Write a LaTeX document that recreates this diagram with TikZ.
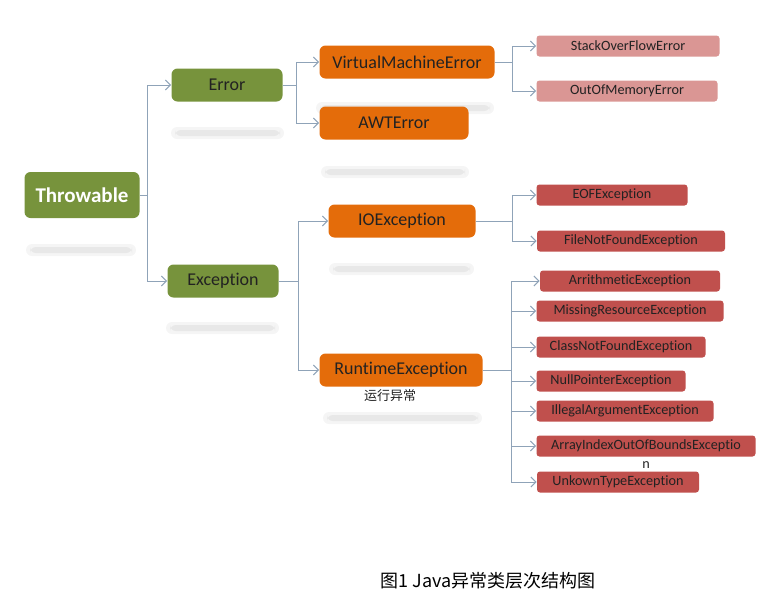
\documentclass[tikz,border=0pt]{standalone}
\usepackage{fontspec}
\setmainfont{Carlito}[Ligatures=NoCommon]
\newfontfamily\cjkfont{Noto Sans CJK SC}
\usetikzlibrary{arrows.meta}
\definecolor{leafgreen}{HTML}{77933C}
\definecolor{boxorange}{HTML}{E46C0A}
\definecolor{boxpink}{HTML}{DA9694}
\definecolor{boxred}{HTML}{C0504D}
\definecolor{linkgray}{HTML}{8FA3B8}
\definecolor{inkdark}{HTML}{222222}

\tikzset{
  box/.style={rounded corners=3pt, inner sep=0pt, text=inkdark},
  rootbox/.style={box, fill=leafgreen, minimum width=57.5pt, minimum height=23pt, text=white, font=\fontsize{10.5}{12}\selectfont\bfseries},
  classbox/.style={box, fill=leafgreen, minimum width=55.5pt, minimum height=16.5pt, font=\fontsize{9}{11}\selectfont},
  errbox/.style={box, fill=boxorange, minimum height=16.5pt, font=\fontsize{9}{11}\selectfont},
  leafbox/.style={box, rounded corners=1.5pt, minimum height=10.5pt, font=\fontsize{7.1}{8}\selectfont},
  softbox/.style={leafbox, fill=boxpink},
  hardbox/.style={leafbox, fill=boxred},
  link/.style={draw=linkgray, line width=0.5pt},
  glow/.style={fill=gray!#1, rounded corners=3pt, draw=none}
}

\begin{document}
\begin{tikzpicture}[x=0.5pt, y=-0.5pt, >={Straight Barb[length=2.5pt, width=5pt]}]
  \useasboundingbox (0,0) rectangle (781,606);

  % reflections under the boxes
  \foreach \xa/\xb/\yy in {30/132/250, 175/280/133, 170/275/328, 320/490/108, 325/465/172, 333/470/269, 327/478/418}{
    \fill[glow=8] (\xa-4,\yy-6) rectangle (\xb+4,\yy+6);
    \fill[glow=18] (\xa,\yy-3) rectangle (\xb,\yy+3);
  }

  % level 1 and 2
  \node[rootbox] (throw) at (82,195) {Throwable};
  \node[classbox] (err) at (227,85) {Error};
  \node[classbox] (exc) at (223,281) {Exception};

  % level 3
  \node[errbox, minimum width=87.5pt] (vme) at (407,62) {VirtualMachineError};
  \node[errbox, minimum width=74.5pt] (awt) at (394,123) {AWTError};
  \node[errbox, minimum width=73.5pt] (io) at (402,221) {IOException};
  \node[errbox, minimum width=81.5pt] (rt) at (401,370) {RuntimeException};
  \node[font=\cjkfont\fontsize{6.5}{8}\selectfont, text=inkdark] (rtnote) at (390,396) {运行异常};

  % level 4
  \node[softbox, minimum width=91.5pt] (sof) at (628,46) {StackOverFlowError};
  \node[softbox, minimum width=90.5pt] (oom) at (627,91) {OutOfMemoryError};
  \node[hardbox, minimum width=75.5pt] (eof) at (612,195) {EOFException};
  \node[hardbox, minimum width=94pt] (fnf) at (631,241) {FileNotFoundException};
  \node[hardbox, minimum width=90pt] (ari) at (630,281) {ArrithmeticException};
  \node[hardbox, minimum width=93.5pt] (mis) at (630,311) {MissingResourceException};
  \node[hardbox, minimum width=84.5pt] (cnf) at (621,347) {ClassNotFoundException};
  \node[hardbox, minimum width=74.5pt] (npe) at (611,381) {NullPointerException};
  \node[hardbox, minimum width=88.5pt] (iae) at (625,411) {IllegalArgumentException};
  \node[hardbox, minimum width=109.5pt] (aio) at (646,446) {ArrayIndexOutOfBoundsExceptio};
  \node[font=\fontsize{7.1}{8}\selectfont, text=inkdark] (aiotail) at (646,465) {n};
  \node[hardbox, minimum width=81pt] (ute) at (618,482) {UnkownTypeException};

  % connectors
  \foreach \c in {err, exc}
    \draw[link, ->] (throw.east) -- ++(8,0) |- (\c.west);
  \foreach \c in {vme, awt}
    \draw[link, ->] (err.east) -- ++(14,0) |- (\c.west);
  \foreach \c in {io, rt}
    \draw[link, ->] (exc.east) -- ++(20,0) |- (\c.west);
  \foreach \c in {sof, oom}
    \draw[link, ->] (vme.east) -- ++(18,0) |- (\c.west);
  \foreach \c in {eof, fnf}
    \draw[link, ->] (io.east) -- ++(37,0) |- (\c.west);
  \foreach \c in {ari, mis, cnf, npe, iae, aio, ute}
    \draw[link, ->] (rt.east) -- ++(29,0) |- (\c.west);

  \node[font=\cjkfont\fontsize{9}{11}\selectfont, text=black] (caption) at (488,581) {图1 Java异常类层次结构图};
\end{tikzpicture}
\end{document}
